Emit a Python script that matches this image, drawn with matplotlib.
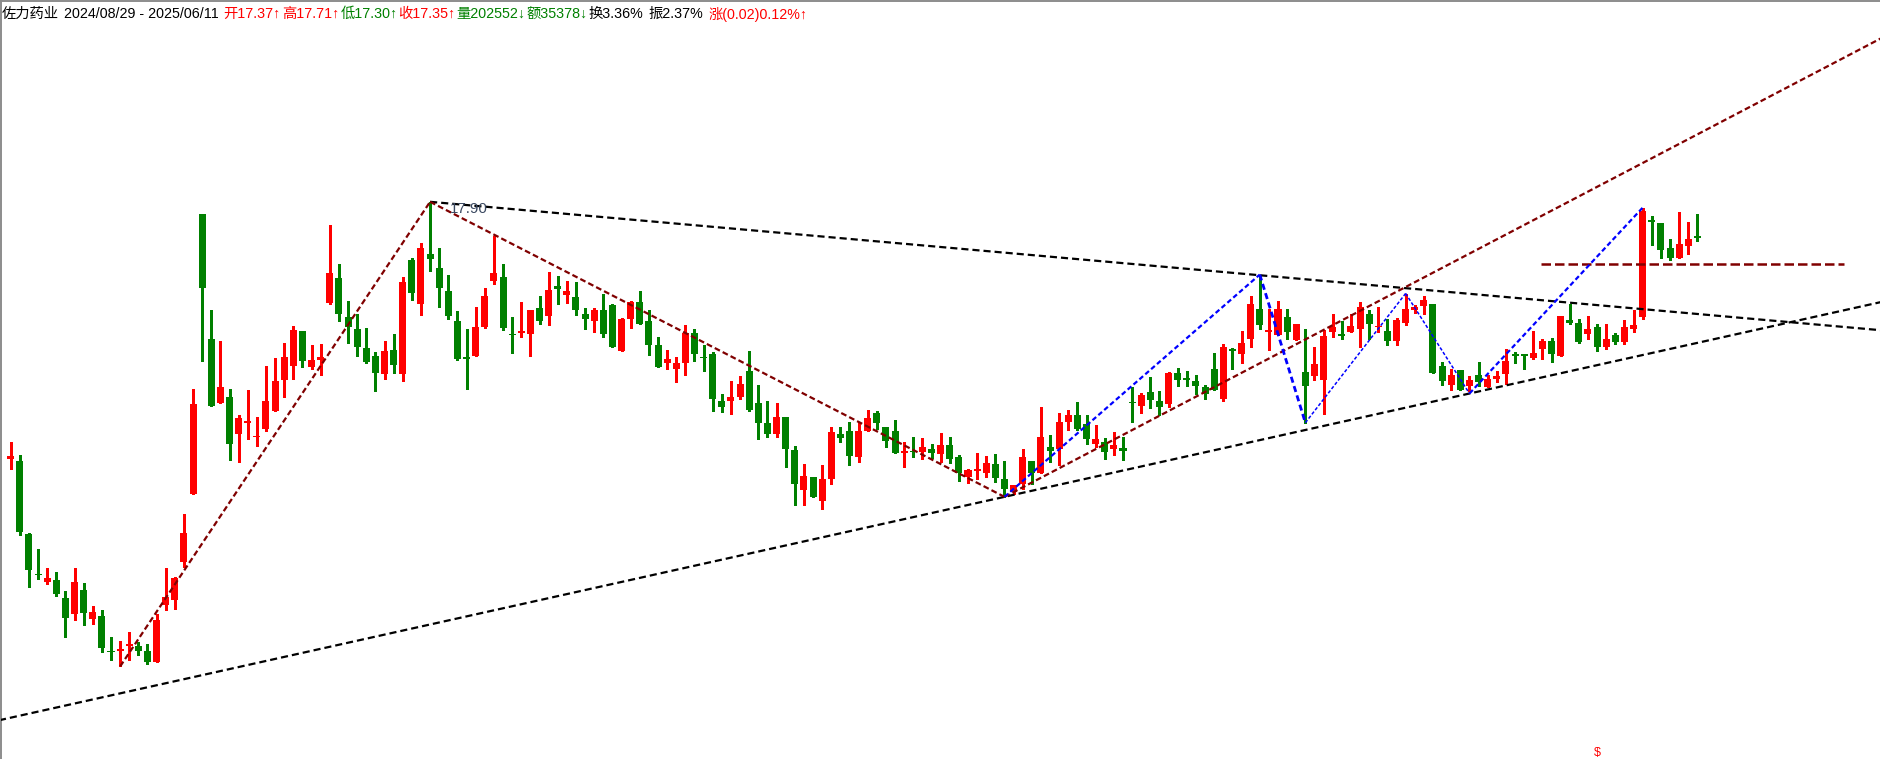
import matplotlib
matplotlib.use("Agg")
import matplotlib.pyplot as plt
import numpy as np

# ---------------- data ----------------
opens = [13.95,13.91,12.79,12.17,12.05,12.08,11.80,11.56,11.93,11.48,11.53,10.99,10.99,11.07,11.07,10.99,10.82,11.70,11.78,12.35,
         13.41,17.71,15.79,14.81,14.90,14.32,14.50,14.28,14.41,14.68,15.16,15.38,15.91,15.36,15.47,16.35,16.73,16.13,15.94,15.65,
         15.53,15.25,15.62,15.25,17.00,16.32,17.10,16.88,16.53,16.06,15.51,15.52,15.98,16.68,16.74,15.86,15.88,15.87,16.26,16.15,
         16.60,16.47,16.43,16.17,16.07,16.23,16.31,15.61,16.09,16.36,16.06,15.70,15.42,15.32,15.42,15.88,15.51,15.56,14.83,14.84,
         14.90,15.30,14.80,14.50,14.32,14.59,14.08,13.47,13.66,13.30,13.64,14.33,14.37,13.98,14.38,14.65,14.43,14.37,14.04,14.07,
         14.05,14.10,14.02,14.16,13.97,13.67,13.76,13.72,13.86,13.63,13.44,13.55,13.91,13.73,14.13,14.10,14.51,14.62,14.48,14.18,
         14.20,14.10,14.11,14.82,14.76,14.97,14.83,14.79,15.26,15.17,15.14,15.05,15.33,14.87,15.63,15.56,15.79,16.25,15.90,15.85,
         16.13,15.78,15.28,15.22,15.16,15.90,15.86,15.89,15.95,16.17,15.97,15.91,15.76,16.04,16.23,16.30,16.33,15.37,15.08,15.31,
         15.07,15.23,15.05,15.18,15.25,15.55,15.56,15.50,15.64,15.76,15.52,16.08,16.03,15.87,15.97,15.67,15.85,15.75,15.95,16.13,
         17.62,17.57,17.19,17.04,17.22,17.37]
highs = [14.20,14.00,12.81,12.56,12.27,12.20,11.91,12.27,12.03,11.68,11.62,11.21,11.14,11.28,11.13,11.10,11.56,12.27,12.13,13.10,
         15.02,17.71,16.23,15.76,15.02,14.62,15.00,14.59,15.37,15.50,15.73,15.99,15.91,15.70,15.71,17.54,16.94,16.37,16.17,15.96,
         15.59,15.76,15.86,16.75,17.03,17.26,17.90,17.19,16.77,16.22,15.94,16.28,16.57,17.38,16.94,16.13,16.36,16.23,16.45,16.82,
         16.76,16.68,16.66,16.26,16.26,16.48,16.33,16.11,16.37,16.53,16.23,15.82,15.62,15.51,16.00,15.94,15.70,15.59,14.94,15.14,
         15.22,15.60,15.08,14.83,14.80,14.59,14.14,13.86,13.66,13.85,14.43,14.43,14.51,14.51,14.70,14.68,14.43,14.54,14.20,14.28,
         14.26,14.17,14.34,14.28,14.00,13.79,14.03,13.99,14.02,13.91,13.54,14.10,13.91,14.74,14.31,14.65,14.70,14.82,14.62,14.46,
         14.26,14.36,14.28,15.05,14.96,15.20,14.99,15.28,15.34,15.30,15.23,15.08,15.57,15.71,15.65,15.91,16.45,16.77,16.25,16.37,
         16.25,16.02,15.94,15.67,15.93,16.17,16.06,16.17,16.36,16.23,16.28,16.10,16.11,16.48,16.31,16.45,16.33,15.43,15.33,15.31,
         15.22,15.43,15.23,15.30,15.63,15.59,15.56,15.91,15.79,15.80,16.14,16.33,16.10,16.14,16.02,16.02,15.88,16.08,16.23,17.81,
         17.68,17.57,17.33,17.74,17.59,17.71]
lows = [13.79,12.78,11.98,12.09,12.02,11.83,11.21,11.47,11.39,11.41,10.98,10.85,10.75,10.85,10.93,10.79,10.82,11.62,11.64,12.28,
        13.41,15.45,14.76,14.81,13.92,13.90,14.25,14.15,14.38,14.68,14.90,15.18,15.36,15.33,15.24,16.33,16.07,15.72,15.53,15.42,
        14.99,15.18,15.27,15.15,16.39,16.16,16.84,16.28,16.10,15.46,15.02,15.52,15.96,16.64,15.93,15.58,15.82,15.52,16.02,16.01,
        16.33,16.35,16.16,15.95,15.90,15.82,15.67,15.61,15.96,16.02,15.55,15.36,15.32,15.13,15.24,15.45,15.30,14.68,14.67,14.64,
        14.87,14.68,14.25,14.28,14.28,13.82,13.24,13.24,13.35,13.18,13.56,14.20,13.85,13.90,14.38,14.41,14.13,14.04,13.82,13.98,
        13.95,13.96,13.90,13.88,13.61,13.58,13.64,13.67,13.59,13.36,13.41,13.48,13.55,13.73,13.90,13.85,14.39,14.39,14.17,14.13,
        13.95,14.01,13.93,14.51,14.65,14.72,14.62,14.75,15.07,15.07,14.95,14.87,15.01,14.84,15.33,15.42,15.67,15.95,15.62,15.85,
        15.79,15.78,14.50,15.16,14.64,15.82,15.79,15.89,15.67,15.79,15.89,15.70,15.70,16.01,16.19,16.17,15.27,15.08,15.01,15.01,
        14.99,15.07,15.05,15.12,15.10,15.42,15.32,15.48,15.48,15.44,15.52,16.02,15.73,15.79,15.61,15.64,15.71,15.71,15.89,16.10,
        17.24,17.03,17.01,17.04,17.10,17.30]
closes = [13.99,12.82,12.24,12.15,12.11,11.86,11.50,12.05,11.58,11.59,11.04,10.97,11.00,11.10,10.99,10.82,11.46,11.82,12.11,12.80,
          14.79,16.58,14.76,15.05,14.18,14.57,14.52,14.30,14.83,15.14,15.51,15.93,15.45,15.46,15.51,16.80,16.18,15.98,15.67,15.43,
          15.27,15.60,15.39,16.66,16.50,17.19,17.02,16.58,16.15,15.48,15.48,15.97,16.45,16.80,15.96,15.85,15.91,16.23,16.07,16.54,
          16.56,16.53,16.24,16.10,16.23,15.87,15.67,16.10,16.36,16.02,15.70,15.36,15.48,15.42,15.88,15.56,15.49,14.87,14.75,14.90,
          15.10,14.70,14.50,14.33,14.59,14.10,13.55,13.68,13.35,13.63,14.36,14.26,13.99,14.37,14.57,14.50,14.22,14.04,14.06,14.05,
          14.13,14.04,14.16,13.95,13.73,13.77,13.78,13.88,13.65,13.48,13.54,13.97,13.72,14.28,14.07,14.51,14.62,14.40,14.25,14.25,
          14.05,14.16,14.07,14.80,14.93,14.85,14.75,15.26,15.16,15.16,15.07,14.95,15.01,15.66,15.61,15.73,16.33,16.01,15.92,16.25,
          15.89,16.02,15.07,15.40,15.83,15.97,15.84,15.99,16.28,16.02,15.99,15.76,16.08,16.25,16.28,16.39,15.27,15.15,15.23,15.01,
          15.16,15.13,15.18,15.22,15.45,15.53,15.52,15.57,15.76,15.56,16.14,16.04,15.75,15.94,15.67,15.79,15.75,15.97,16.00,17.76,
          17.59,17.16,17.04,17.25,17.33,17.35]

# trend / pattern lines: (bar index, price) anchors
rising_support = [(109, 13.36), (160, 14.95)]            # black, extended both ways
falling_resist = [(46, 17.90), (137, 16.77)]             # black, extended to the right
maroon_up1 = [(12, 10.75), (46, 17.90)]
maroon_down = [(46, 17.90), (109, 13.36)]
maroon_up2 = [(109, 13.36), (205.2, 20.42)]
maroon_level = [(167.9, 16.95), (201.1, 16.95)]
blue_zigzag = [(109, 13.36), (137, 16.78), (142, 14.50), (153, 16.49), (160, 14.95), (179, 17.81)]
peak_label = (46, 17.90, "17.90")
signal_bar = 174  # "$" marker on the bottom edge

# header pieces: (text, colour, space before)
header = [("佐力药业", "k", False), ("2024/08/29 - 2025/06/11", "k", True),
          ("开17.37↑", "#ff0000", True), ("高17.71↑", "#ff0000", False),
          ("低17.30↑", "#008000", False), ("收17.35↑", "#ff0000", False),
          ("量202552↓", "#008000", False), ("额35378↓", "#008000", False),
          ("换3.36%", "k", False), ("振2.37%", "k", True),
          ("涨(0.02)0.12%↑", "#ff0000", True)]

# ---------------- figure ----------------
W, H = 1881, 759
fig = plt.figure(figsize=(W / 100, H / 100), dpi=100)
ax = fig.add_axes([1.5 / W, 0, 1 - 1.5 / W, 1 - 1.0 / H])
ax.set_xlim(-1.01, 205.14)
ax.set_ylim(9.326, 20.99)
ax.set_xticks([])
ax.set_yticks([])
for s in ["right", "bottom"]:
    ax.spines[s].set_visible(False)
for s in ["left", "top"]:
    ax.spines[s].set_color("#8c8c8c")
    ax.spines[s].set_linewidth(1.4)

o = np.array(opens); h = np.array(highs); l = np.array(lows); c = np.array(closes)
x = np.arange(len(o))
up = c >= o
cols = np.where(up, "#ff0000", "#008000")

ax.vlines(x, l, h, colors=cols, linewidth=1.0, antialiased=False, zorder=2)
body_bottom = np.minimum(o, c)
body_h = np.maximum(np.abs(c - o), 0.022)
ax.bar(x, body_h, bottom=body_bottom, width=0.77, color=cols, linewidth=0,
       antialiased=False, zorder=3)

xl = ax.get_xlim()

def extend(p, x0, x1):
    (a, pa), (b, pb) = p
    s = (pb - pa) / (b - a)
    return [x0, x1], [pa + s * (x0 - a), pa + s * (x1 - a)]

# black dashed lines
xs, ys = extend(rising_support, xl[0] - 1, xl[1] + 1)
ax.plot(xs, ys, color="black", lw=1.6, ls=(0, (3.2, 1.8)), zorder=5)
xs, ys = extend(falling_resist, falling_resist[0][0], xl[1] + 1)
ax.plot(xs, ys, color="black", lw=1.6, ls=(0, (3.2, 1.8)), zorder=5)

# maroon dashed lines
for seg in (maroon_up1, maroon_down, maroon_up2):
    ax.plot([p[0] for p in seg], [p[1] for p in seg], color="#800000", lw=1.6,
            ls=(0, (2.6, 1.4)), zorder=5)
ax.plot([p[0] for p in maroon_level], [p[1] for p in maroon_level], color="#800000",
        lw=1.8, ls=(0, (3.8, 1.6)), zorder=5)

# blue zigzag
widths = [1.6, 2.0, 1.1, 1.1, 1.6]
for k in range(len(blue_zigzag) - 1):
    p0, p1 = blue_zigzag[k], blue_zigzag[k + 1]
    ax.plot([p0[0], p1[0]], [p0[1], p1[1]], color="#0000ff", lw=widths[k],
            ls=(0, (2.2, 1.3)), zorder=6)

# peak label
ax.annotate(peak_label[2], xy=(peak_label[0], peak_label[1]), xytext=(20, -7.5),
            textcoords="offset pixels", fontsize=10.8, color="#3a4860",
            va="center", ha="left", family=["Liberation Sans", "DejaVu Sans"], zorder=7)

# "$" signal on bottom edge
ax.text(signal_bar, 0.008, r"\$", transform=ax.get_xaxis_transform(), color="#ff0000",
        fontsize=9, ha="center", va="center", family=["Liberation Sans", "DejaVu Sans"])

# header: laid out piece after piece, font size fitted to the reference width
fam = ["Liberation Sans", "Noto Sans CJK SC", "DejaVu Sans"]
renderer = fig.canvas.get_renderer()

def layout(fs, draw=False):
    xpos = 2.0
    probe = fig.text(0, 0, "a a", fontsize=fs, family=fam)
    w2 = probe.get_window_extent(renderer).width
    probe.set_text("aa")
    space = w2 - probe.get_window_extent(renderer).width
    probe.remove()
    arts = []
    for txt, col, sp in header:
        if sp:
            xpos += space
        t = fig.text(xpos / W, 1 - 14 / H, txt, color=col, fontsize=fs, va="center",
                     ha="left", family=fam)
        xpos += t.get_window_extent(renderer).width + 1.0
        arts.append(t)
    if not draw:
        for t in arts:
            t.remove()
    return xpos

fs0 = 10.5
end = layout(fs0)
fs = fs0 * (813 - 2) / (end - 2)
layout(fs, draw=True)

fig.savefig("out.png", dpi=100, facecolor="white")
